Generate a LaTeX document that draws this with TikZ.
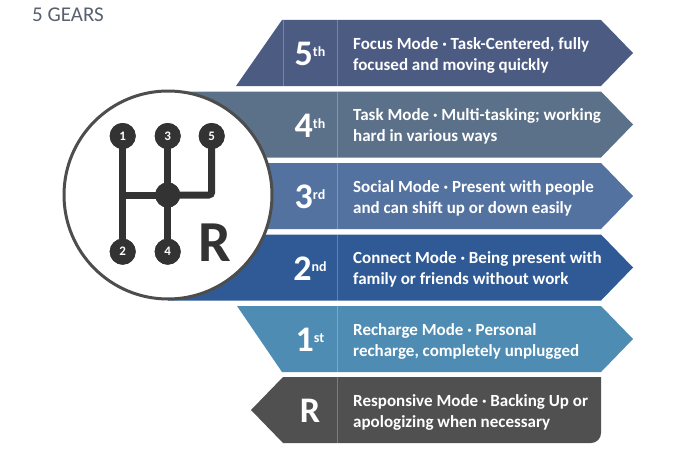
\documentclass[tikz,border=0pt]{standalone}
\usepackage{fontspec}
\setmainfont{Carlito}
\definecolor{gearfive}{HTML}{4B5B82}
\definecolor{gearfour}{HTML}{5B7189}
\definecolor{gearthree}{HTML}{5472A0}
\definecolor{geartwo}{HTML}{2F5A95}
\definecolor{gearone}{HTML}{4E8CB3}
\definecolor{gearrev}{HTML}{505050}
\definecolor{shiftgray}{HTML}{333333}
\definecolor{ringgray}{HTML}{4D4D4D}
\definecolor{titlegray}{HTML}{59616E}
\newcommand{\gearnum}[2]{#1\raisebox{9pt}{\fontsize{14}{14}\selectfont #2}}
\begin{document}
\begin{tikzpicture}[x=1pt,y=-1pt,
    rankstyle/.style={text=white,font=\bfseries\fontsize{36}{36}\selectfont,inner sep=0pt},
    desc/.style={text=white,font=\bfseries\fontsize{17}{21}\selectfont,align=left,anchor=west,inner sep=0pt},
    seam/.style={white,opacity=0.25,line width=0.6pt},
    knob/.style={circle,fill=shiftgray,text=white,minimum size=26pt,inner sep=0pt,font=\bfseries\fontsize{13}{13}\selectfont},
    stem/.style={shiftgray,line width=7pt}]
    \useasboundingbox (0,0) rectangle (692,452);
    \node[anchor=base west,inner sep=0pt,text=titlegray,font=\fontsize{21}{21}\selectfont] (title) at (32,21.5) {5 GEARS};
    % gear bands
    \fill[gearfive] (282,20) -- (601,20) -- (633,53) -- (601,86) -- (236,86) -- cycle;
    \fill[gearfour] (168,91.5) -- (601,91.5) -- (633,124.5) -- (601,157.5) -- (168,157.5) -- cycle;
    \fill[gearthree] (168,163) -- (601,163) -- (633,196) -- (601,229) -- (168,229) -- cycle;
    \fill[geartwo] (168,234.5) -- (601,234.5) -- (633,267.5) -- (601,300.5) -- (168,300.5) -- cycle;
    \fill[gearone] (237,306) -- (601,306) -- (633,339) -- (601,372) -- (282,372) -- cycle;
    \fill[gearrev] (283,377) -- (601,377) -- (601,433) arc (0:90:10) -- (283,443) -- (251,410) -- cycle;
    \draw[seam] (283,20) -- (283,86);
    \draw[seam] (337,20) -- (337,86);
    \draw[seam] (337,91.5) -- (337,157.5);
    \draw[seam] (337,163) -- (337,229);
    \draw[seam] (337,234.5) -- (337,300.5);
    \draw[seam] (337,306) -- (337,372);
    \draw[seam] (337,377) -- (337,443);
    % gear numbers and texts
    \node[rankstyle] (n5) at (310,54) {\gearnum{5}{th}};
    \node[rankstyle] (n4) at (310,125.5) {\gearnum{4}{th}};
    \node[rankstyle] (n3) at (310,197) {\gearnum{3}{rd}};
    \node[rankstyle] (n2) at (310,268.5) {\gearnum{2}{nd}};
    \node[rankstyle] (n1) at (310,340) {\gearnum{1}{st}};
    \node[rankstyle] (nr) at (310,411) {R};
    \node[desc] (d5) at (353,55) {Focus Mode · Task-Centered, fully\\focused and moving quickly};
    \node[desc] (d4) at (353,126.5) {Task Mode · Multi-tasking; working\\hard in various ways};
    \node[desc] (d3) at (353,198) {Social Mode · Present with people\\and can shift up or down easily};
    \node[desc] (d2) at (353,269.5) {Connect Mode · Being present with\\family or friends without work};
    \node[desc] (d1) at (353,341) {Recharge Mode · Personal\\recharge, completely unplugged};
    \node[desc] (dr) at (353,412) {Responsive Mode · Backing Up or\\apologizing when necessary};
    % shift knob
    \draw[ringgray,fill=white,line width=3pt] (168,195) circle (104);
    \node[knob] (k1) at (122.7,136) {1};
    \node[knob] (k3) at (167.7,136) {3};
    \node[knob] (k5) at (211.7,136) {5};
    \node[knob] (k2) at (122.7,251.7) {2};
    \node[knob] (k4) at (167.7,251.7) {4};
    \node[knob,minimum size=25pt] (hub) at (167.7,195) {};
    \draw[stem] (k1.center) -- (k2.center);
    \draw[stem] (k3.center) -- (k4.center);
    \draw[stem] (k1.center |- hub.center) -- (hub.center);
    \draw[stem,rounded corners=3pt] (k5.center) |- (hub.center);
    \node[knob] at (k1) {1};
    \node[knob] at (k3) {3};
    \node[knob] at (k5) {5};
    \node[knob] at (k2) {2};
    \node[knob] at (k4) {4};
    \node[knob,minimum size=25pt] at (hub) {};
    \node[text=shiftgray,font=\bfseries\fontsize{58}{58}\selectfont,inner sep=0pt] (rev) at (215,242.5) {R};
\end{tikzpicture}
\end{document}
